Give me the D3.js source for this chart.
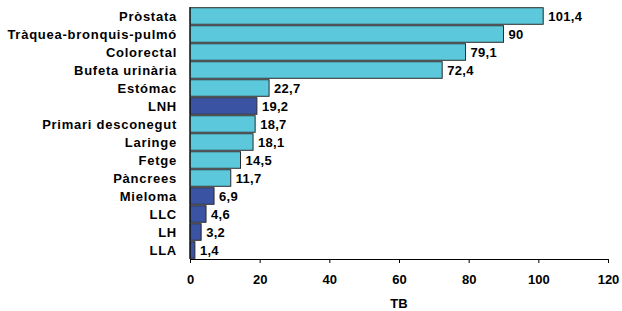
<!DOCTYPE html>
<html>
<head>
<meta charset="utf-8">
<script src="https://cdn.jsdelivr.net/npm/d3@7"></script>
<style>
  body { margin: 0; background: #fff; }
  text { font-family: "Liberation Sans", Arial, sans-serif; font-weight: bold; fill: #000; }
</style>
</head>
<body>
<div id="chart"></div>
<script>
const categories = ['Pròstata', 'Tràquea-bronquis-pulmó', 'Colorectal', 'Bufeta urinària', 'Estómac', 'LNH',
    'Primari desconegut', 'Laringe', 'Fetge', 'Pàncrees', 'Mieloma', 'LLC', 'LH', 'LLA'];
const values = [101.4, 90, 79.1, 72.4, 22.7, 19.2, 18.7, 18.1, 14.5, 11.7, 6.9, 4.6, 3.2, 1.4];
// hematological ones are drawn dark
const groups = ['s', 's', 's', 's', 's', 'h', 's', 's', 's', 's', 'h', 'h', 'h', 'h'];
const xTicks = [0, 20, 40, 60, 80, 100, 120];
const xTitle = 'TB';

const W = 622, H = 311;
const m = { left: 190, right: 14, top: 7, bottom: 52 };

const svg = d3.select('#chart').append('svg')
    .attr('width', W)
    .attr('height', H);

const x = d3.scaleLinear().domain([0, 120]).range([m.left, W - m.right]);
const y = d3.scaleBand().domain(categories).range([m.top, H - m.bottom]).paddingInner(0.08).paddingOuter(0.04);
const color = d3.scaleOrdinal().domain(['s', 'h']).range(['#5bc8db', '#3a53a3']);

const data = categories.map((c, i) => ({ c, v: values[i], g: groups[i] }));

svg.append('g').selectAll('rect')
    .data(data)
    .enter().append('rect')
    .attr('x', x(0))
    .attr('y', d => y(d.c))
    .attr('width', d => x(d.v) - x(0))
    .attr('height', y.bandwidth())
    .attr('fill', d => color(d.g))
    .attr('stroke', '#2a2a2a')
    .attr('stroke-width', 1);

svg.append('g').selectAll('text')
    .data(data)
    .enter().append('text')
    .attr('x', d => x(d.v) + 5)
    .attr('y', d => y(d.c) + y.bandwidth() / 2)
    .attr('dy', '0.36em')
    .style('font-size', '13px')
    .style('letter-spacing', '0.3px')
    .text(d => String(d.v).replace('.', ','));

// category labels
svg.append('g').selectAll('text')
    .data(categories)
    .enter().append('text')
    .attr('x', m.left - 13)
    .attr('y', d => y(d) + y.bandwidth() / 2)
    .attr('dy', '0.36em')
    .attr('text-anchor', 'end')
    .style('font-size', '13px')
    .style('letter-spacing', '0.75px')
    .text(d => d);

// y axis line
svg.append('line')
    .attr('x1', x(0)).attr('x2', x(0))
    .attr('y1', m.top).attr('y2', H - m.bottom)
    .attr('stroke', '#000');

const xAxis = svg.append('g')
    .attr('transform', `translate(0,${H - m.bottom})`)
    .call(d3.axisBottom(x).tickValues(xTicks).tickSize(4).tickPadding(12));
xAxis.select('.domain').attr('stroke', '#000');
xAxis.selectAll('line').attr('stroke', '#000');
xAxis.selectAll('text')
    .style('font-size', '13px')
    .style('font-family', '"Liberation Sans", Arial, sans-serif')
    .style('font-weight', 'bold')
    .attr('fill', '#000');

svg.append('text')
    .attr('x', (x(0) + x(120)) / 2)
    .attr('y', H - 3)
    .attr('text-anchor', 'middle')
    .style('font-size', '13px')
    .text(xTitle);
</script>
</body>
</html>
